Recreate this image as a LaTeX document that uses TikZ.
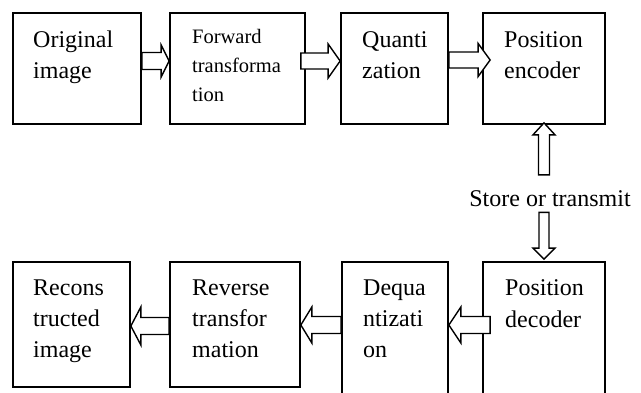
\documentclass[tikz,border=0pt]{standalone}
\usepackage{fontspec}
\setmainfont{Liberation Serif}
\usetikzlibrary{calc}
\tikzset{
  box/.style={draw, line width=1.7pt, rectangle, inner sep=0pt},
  txt/.style={anchor=base west, inner sep=0pt, align=left},
  blk/.style={draw, line width=1.4pt, fill=white, line join=miter}
}
% horizontal block arrows: #1 tail, #2 tip, #3 body half, #4 head half, #5 head length
\newcommand\rarr[5]{\draw[blk] let \p1=(#1), \p2=(#2) in
  (\x1,{\y2+#3}) -- ({\x2-#5},{\y2+#3}) -- ({\x2-#5},{\y2+#4}) -- (\x2,\y2)
  -- ({\x2-#5},{\y2-#4}) -- ({\x2-#5},{\y2-#3}) -- (\x1,{\y2-#3}) -- cycle;}
\newcommand\larr[5]{\draw[blk] let \p1=(#1), \p2=(#2) in
  (\x1,{\y2+#3}) -- ({\x2+#5},{\y2+#3}) -- ({\x2+#5},{\y2+#4}) -- (\x2,\y2)
  -- ({\x2+#5},{\y2-#4}) -- ({\x2+#5},{\y2-#3}) -- (\x1,{\y2-#3}) -- cycle;}
\newcommand\uarr[5]{\draw[blk] let \p1=(#1), \p2=(#2) in
  ({\x2-#3},\y1) -- ({\x2-#3},{\y2-#5}) -- ({\x2-#4},{\y2-#5}) -- (\x2,\y2)
  -- ({\x2+#4},{\y2-#5}) -- ({\x2+#3},{\y2-#5}) -- ({\x2+#3},\y1) -- cycle;}
\newcommand\darr[5]{\draw[blk] let \p1=(#1), \p2=(#2) in
  ({\x2-#3},\y1) -- ({\x2-#3},{\y2+#5}) -- ({\x2-#4},{\y2+#5}) -- (\x2,\y2)
  -- ({\x2+#4},{\y2+#5}) -- ({\x2+#3},{\y2+#5}) -- ({\x2+#3},\y1) -- cycle;}
\begin{document}
\begin{tikzpicture}[x=1pt,y=-1pt]
\useasboundingbox (0,0) rectangle (641,392);
\clip (0,0) rectangle (641,392);
\fill[white] (0,0) rectangle (641,392);
% boxes
\node[box, minimum width=128pt, minimum height=111pt] (b1) at (77,68.5) {};
\node[box, minimum width=135pt, minimum height=111pt] (b2) at (237.5,68.5) {};
\node[box, minimum width=107pt, minimum height=111pt] (b3) at (394.5,68.5) {};
\node[box, minimum width=122pt, minimum height=111pt] (b4) at (544,68.5) {};
\node[box, minimum width=117pt, minimum height=125pt] (b5) at (71.5,324.5) {};
\node[box, minimum width=130pt, minimum height=125pt] (b6) at (235,324.5) {};
\node[box, minimum width=106pt, minimum height=140pt] (b7) at (395,332) {};
\node[box, minimum width=122pt, minimum height=140pt] (b8) at (544,332) {};
% texts
\fontsize{24}{31}\selectfont
\node[txt] (t1) at (33,47) {\parbox[t]{110pt}{Original\\image}};
\node[txt] (t2) at (192,43) {\fontsize{20.5}{29}\selectfont\parbox[t]{110pt}{Forward\\transforma\\tion}};
\node[txt] (t3) at (362,47) {\parbox[t]{90pt}{Quanti\\zation}};
\node[txt] (t4) at (504,47) {\parbox[t]{100pt}{Position\\encoder}};
\node[txt] (t5) at (33,295) {\parbox[t]{100pt}{\baselineskip=31pt Recons\\tructed\\image}};
\node[txt] (t6) at (192,295) {\parbox[t]{100pt}{\baselineskip=31pt Reverse\\transfor\\mation}};
\node[txt] (t7) at (363,295) {\parbox[t]{90pt}{\baselineskip=31pt Dequa\\ntizati\\on}};
\node[txt] (t8) at (505,295) {\parbox[t]{100pt}{\baselineskip=32pt Position\\decoder}};
\node[anchor=base, inner sep=0pt] (st) at (550,206) {Store or transmit};
% connectors
\rarr{b1.east |- 0,61}{b2.west |- 0,61}{8.5pt}{16pt}{8pt}
\rarr{[xshift=-5pt]b2.east |- 0,61}{b3.west |- 0,61}{8pt}{17pt}{12pt}
\rarr{b3.east |- 0,60}{[xshift=8pt]b4.west |- 0,60}{8pt}{16.5pt}{12pt}
\uarr{[yshift=15pt]st.north -| b4.south}{[yshift=2pt]b4.south}{5.5pt}{11pt}{12pt}
\darr{[yshift=-6pt]st.south -| b8.north}{[yshift=2pt]b8.north}{5pt}{11pt}{11pt}
\larr{[xshift=8pt]b8.west |- 0,325}{b7.east |- 0,325}{8.5pt}{18pt}{12pt}
\larr{b7.west |- 0,325}{b6.east |- 0,325}{8.5pt}{18pt}{11pt}
\larr{b6.west |- 0,326}{b5.east |- 0,326}{8.5pt}{19pt}{10pt}
\end{tikzpicture}
\end{document}
